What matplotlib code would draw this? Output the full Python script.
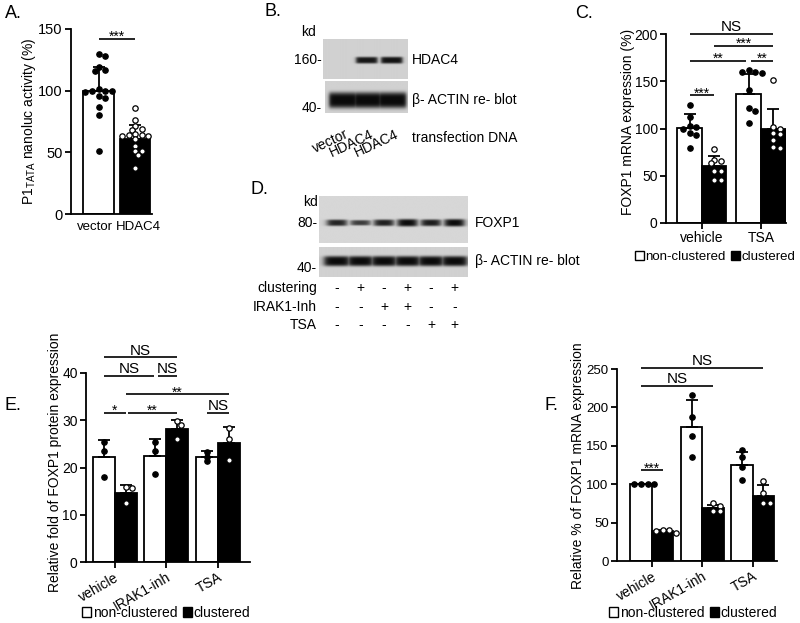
import numpy as np
import matplotlib
matplotlib.use('Agg')
import matplotlib.pyplot as plt
from matplotlib.patches import Patch

plt.rcParams['font.family'] = ['Liberation Sans', 'DejaVu Sans']
plt.rcParams['font.size'] = 10
plt.rcParams['axes.linewidth'] = 1.3
plt.rcParams['xtick.major.width'] = 1.3
plt.rcParams['ytick.major.width'] = 1.3
plt.rcParams['xtick.major.size'] = 4
plt.rcParams['ytick.major.size'] = 4

# ======================= data =======================
# A. P1TATA nanoluc activity
a_labels = ['vector', 'HDAC4']
a_mean = [100, 61]
a_sd = [19, 11]
a_vector = [130, 128, 119, 117, 116, 101, 100, 100, 100, 99, 96, 94, 87, 80, 51]
a_hdac4 = [86, 76, 71, 69, 68, 65, 64, 64, 63, 63, 61, 55, 51, 51, 48, 37]

# B. HDAC4 western blot (relative band strength per lane)
b_lanes = ['vector', 'HDAC4', 'HDAC4']
b_hdac4 = [0.0, 0.85, 0.9]
b_actin = [1.0, 1.0, 1.0]

# C. FOXP1 mRNA expression (%)
c_groups = ['vehicle', 'TSA']
c_nc_mean = [101, 136]
c_nc_sd = [14, 22]
c_cl_mean = [60, 99]
c_cl_sd = [11, 22]
c_nc_pts = [[125, 112, 103, 102, 100, 95, 93, 79],
            [162, 160, 160, 159, 141, 122, 119, 106]]
c_cl_pts = [[78, 67, 66, 63, 55, 55, 46, 46],
            [151, 102, 99, 95, 94, 88, 80, 79]]

# D. FOXP1 western blot
d_foxp1 = [0.7, 0.4, 0.75, 1.0, 0.8, 1.0]
d_actin = [1.0, 1.0, 1.0, 1.0, 1.0, 1.0]
d_rows = ['clustering', 'IRAK1-Inh', 'TSA']
d_clustering = ['-', '+', '-', '+', '-', '+']
d_irak = ['-', '-', '+', '+', '-', '-']
d_tsa = ['-', '-', '-', '-', '+', '+']

# E. relative fold of FOXP1 protein
e_groups = ['vehicle', 'IRAK1-inh', 'TSA']
e_nc_mean = [22.2, 22.4, 22.2]
e_nc_sd = [3.6, 3.6, 1.2]
e_cl_mean = [14.5, 28.1, 25.1]
e_cl_sd = [1.8, 1.9, 3.4]
e_nc_pts = [[25.3, 23.5, 18.0], [25.3, 23.5, 18.6], [23.3, 22.3, 21.3]]
e_cl_pts = [[15.8, 15.6, 12.4], [29.8, 29.0, 26.0], [28.3, 26.0, 21.5]]

# F. relative % of FOXP1 mRNA
f_groups = ['vehicle', 'IRAK1-inh', 'TSA']
f_nc_mean = [100, 175, 125]
f_nc_sd = [0.5, 35, 17]
f_cl_mean = [39, 69, 85]
f_cl_sd = [2, 4, 14]
f_nc_pts = [[100, 100, 100, 100], [216, 188, 163, 135], [144, 135, 122, 105]]
f_cl_pts = [[41, 40, 39, 37], [76, 72, 65, 65], [104, 89, 75, 75]]

# ======================= helpers =======================
W, H = 800, 623
fig = plt.figure(figsize=(W / 100, H / 100), dpi=100)


def px_axes(l, t, r, b):
    return fig.add_axes([l / W, 1 - b / H, (r - l) / W, (b - t) / H])


def px_text(x, y, s, **kw):
    return fig.text(x / W, 1 - y / H, s, **kw)


def style(ax, xlim, ymax, step):
    ax.spines[['top', 'right']].set_visible(False)
    ax.set_xlim(*xlim)
    ax.set_ylim(0, ymax)
    ax.set_yticks(np.arange(0, ymax + 1, step))
    ax.tick_params(direction='out', labelsize=10, pad=2)


def swarm(ax, xc, vals, d):
    t = ax.transData
    placed = []
    xs = []
    for v in vals:
        px, py = t.transform((xc, v))
        k = 0
        while True:
            off = ((k + 1) // 2) * (1 if k % 2 else -1) * d * 0.6
            if all(np.hypot(px + off - qx, py - qy) >= d * 0.85 for qx, qy in placed):
                break
            k += 1
        placed.append((px + off, py))
        xs.append(t.inverted().transform((px + off, py))[0])
    return xs


def dots(ax, x, vals, face):
    ax.scatter(swarm(ax, x, vals, 5.5), vals, s=15, facecolor=face, edgecolor='black',
               linewidth=0.9, zorder=4, clip_on=False)


def draw_bars(ax, pos, means, sds, face, pts, dot_face):
    ax.bar(pos, means, width=1, color=face, edgecolor='black', linewidth=1.3, zorder=2)
    ax.errorbar(pos, means, yerr=[np.zeros(len(sds)), sds], fmt='none', ecolor='black',
                elinewidth=1.3, capsize=4, capthick=1.3, zorder=3)
    for x, vals in zip(pos, pts):
        dots(ax, x, vals, dot_face)


def sig(ax, x1, x2, y, label):
    ax.plot([x1, x2], [y, y], color='black', lw=1.2, clip_on=False, solid_capstyle='butt')
    if '*' in label:
        ax.annotate(label, ((x1 + x2) / 2, y), xytext=(0, -1.5), textcoords='offset points',
                    ha='center', va='baseline', fontsize=10, annotation_clip=False)
    else:
        ax.annotate(label, ((x1 + x2) / 2, y), xytext=(0, 2), textcoords='offset points',
                    ha='center', va='baseline', fontsize=11, annotation_clip=False)


def blot(ax, amps, lane_x, band_y, half_h, band_w, bg):
    X, Y = np.meshgrid(np.linspace(0, 1, 400), np.linspace(0, 1, 120))
    dark = np.zeros(X.shape)
    for a, c in zip(amps, lane_x):
        if a <= 0:
            continue
        hx = 1 / (1 + np.exp(-(X - (c - band_w / 2)) / 0.012)) * 1 / (1 + np.exp((X - (c + band_w / 2)) / 0.012))
        h = half_h * (0.55 + 0.45 * a)
        hy = np.exp(-((Y - band_y) / h) ** 4)
        dark = np.maximum(dark, (0.6 + 0.4 * a) * (bg - 0.04) * hx * hy)
    ax.imshow(bg - dark, cmap='gray', vmin=0, vmax=1, aspect='auto', interpolation='bilinear')
    ax.set_axis_off()


def legend_at(x, y, fs):
    handles = [Patch(facecolor='white', edgecolor='black', linewidth=1),
               Patch(facecolor='black', edgecolor='black', linewidth=1)]
    fig.legend(handles, ['non-clustered', 'clustered'], loc='center', ncol=2, frameon=False,
               bbox_to_anchor=(x / W, 1 - y / H), handlelength=0.7, handleheight=0.7,
               handletextpad=0.1, columnspacing=0.4, fontsize=fs, borderaxespad=0)


# ======================= A =======================
axA = px_axes(71, 29, 152, 214)
a_pos = [0, 1.2]
style(axA, (-0.9, 1.75), 150, 50)
axA.tick_params(axis='y', labelsize=10.5)
axA.bar(a_pos, a_mean, width=1, color=['white', 'black'], edgecolor='black', linewidth=1.3, zorder=2)
axA.errorbar(a_pos, a_mean, yerr=[[0, 0], a_sd], fmt='none', ecolor='black', elinewidth=1.3,
             capsize=4, capthick=1.3, zorder=3)
dots(axA, a_pos[0], a_vector, 'black')
dots(axA, a_pos[1], a_hdac4, 'white')
axA.set_xticks([a_pos[0] - 0.12, a_pos[1] + 0.1])
axA.set_xticklabels(a_labels, fontsize=9.5)
axA.tick_params(axis='x', length=0, pad=5)
sig(axA, 0, 1.2, 142, '***')
px_text(29, 121, 'P1$\\mathregular{_{TATA}}$ nanoluc activity (%)', rotation=90, ha='center', va='center')
px_text(5, 13, 'A.', fontsize=13, va='center')

# ======================= B =======================
axB1 = px_axes(323, 39, 408, 79)
axB2 = px_axes(325, 81, 408, 113)
b_x = np.linspace(0.22, 0.81, len(b_lanes))
blot(axB1, b_hdac4, b_x, 0.53, 0.09, 0.25, 0.82)
blot(axB2, b_actin, b_x, 0.6, 0.25, 0.34, 0.82)
px_text(265, 12, 'B.', fontsize=13, va='center')
px_text(308, 32, 'kd', ha='center', va='center')
px_text(322, 60, '160-', ha='right', va='center')
px_text(322, 108, '40-', ha='right', va='center')
px_text(412, 60, 'HDAC4', va='center')
px_text(412, 100, 'β- ACTIN re- blot', va='center')
px_text(412, 138, 'transfection DNA', va='center')
for lx, name in zip(323 + b_x * 85, b_lanes):
    px_text(lx + 8, 137, name, rotation=25, ha='right', va='baseline', rotation_mode='anchor')

# ======================= C =======================
axC = px_axes(666, 34, 786, 223)
c_nc_pos = [0, 2.4]
c_cl_pos = [1, 3.4]
style(axC, (-0.96, 3.92), 200, 50)
draw_bars(axC, c_nc_pos, c_nc_mean, c_nc_sd, 'white', c_nc_pts, 'black')
draw_bars(axC, c_cl_pos, c_cl_mean, c_cl_sd, 'black', c_cl_pts, 'white')
axC.set_xticks([0.5, 2.9])
axC.set_xticklabels(c_groups)
sig(axC, 0, 3.4, 200, 'NS')
sig(axC, 1, 3.4, 187.6, '***')
sig(axC, 0, 2.3, 171.8, '**')
sig(axC, 2.5, 3.4, 171.8, '**')
sig(axC, 0, 1, 135, '***')
px_text(628, 122, 'FOXP1 mRNA expression (%)', rotation=90, ha='center', va='center')
px_text(575, 13, 'C.', fontsize=13, va='center')
legend_at(715, 257, 9.5)

# ======================= D =======================
axD1 = px_axes(319, 196, 468, 243)
axD2 = px_axes(319, 247, 468, 277)
d_x = np.linspace(0.12, 0.91, len(d_foxp1))
blot(axD1, d_foxp1, d_x, 0.57, 0.08, 0.13, 0.84)
blot(axD2, d_actin, d_x, 0.47, 0.17, 0.17, 0.82)
px_text(250, 190, 'D.', fontsize=13, va='center')
px_text(310, 202, 'kd', ha='center', va='center')
px_text(317, 223, '80-', ha='right', va='center')
px_text(317, 268, '40-', ha='right', va='center')
px_text(475, 223, 'FOXP1', va='center')
px_text(475, 261, 'β- ACTIN re- blot', va='center')
for row_y, name, signs in zip([288, 307, 325], d_rows, [d_clustering, d_irak, d_tsa]):
    px_text(317, row_y, name, ha='right', va='center')
    for lx, s in zip(319 + d_x * 149, signs):
        px_text(lx, row_y, s, ha='center', va='center')

# ======================= E =======================
axE = px_axes(86, 373, 250, 562)
e_nc_pos = [0, 2.35, 4.7]
e_cl_pos = [1, 3.35, 5.7]
style(axE, (-0.8, 6.65), 40, 10)
draw_bars(axE, e_nc_pos, e_nc_mean, e_nc_sd, 'white', e_nc_pts, 'black')
draw_bars(axE, e_cl_pos, e_cl_mean, e_cl_sd, 'black', e_cl_pts, 'white')
axE.set_xticks([0.5, 2.85, 5.2])
axE.set_xticklabels(e_groups, rotation=30, ha='right', rotation_mode='anchor')
sig(axE, 0, 3.35, 43.3, 'NS')
sig(axE, 0, 2.3, 39.4, 'NS')
sig(axE, 2.45, 3.35, 39.4, 'NS')
sig(axE, 1, 5.7, 35.5, '**')
sig(axE, 0, 1, 31.6, '*')
sig(axE, 1.1, 3.35, 31.6, '**')
sig(axE, 4.7, 5.7, 31.6, 'NS')
px_text(55, 462, 'Relative fold of FOXP1 protein expression', rotation=90, ha='center', va='center')
px_text(5, 405, 'E.', fontsize=13, va='center')
legend_at(166, 613, 10)

# ======================= F =======================
axF = px_axes(617, 369, 777, 561)
f_nc_pos = [0, 2.35, 4.7]
f_cl_pos = [1, 3.35, 5.7]
style(axF, (-1.12, 6.33), 250, 50)
axF.tick_params(axis='y', labelsize=9.5)
draw_bars(axF, f_nc_pos, f_nc_mean, f_nc_sd, 'white', f_nc_pts, 'black')
draw_bars(axF, f_cl_pos, f_cl_mean, f_cl_sd, 'black', f_cl_pts, 'white')
axF.set_xticks([0.5, 2.85, 5.2])
axF.set_xticklabels(f_groups, rotation=30, ha='right', rotation_mode='anchor')
sig(axF, 0, 5.7, 251.6, 'NS')
sig(axF, 0, 3.35, 228.5, 'NS')
sig(axF, 0, 1, 118, '***')
px_text(578, 466, 'Relative % of FOXP1 mRNA expression', rotation=90, ha='center', va='center')
px_text(545, 405, 'F.', fontsize=13, va='center')
legend_at(693, 613, 10)

fig.savefig('out.png', dpi=100)
